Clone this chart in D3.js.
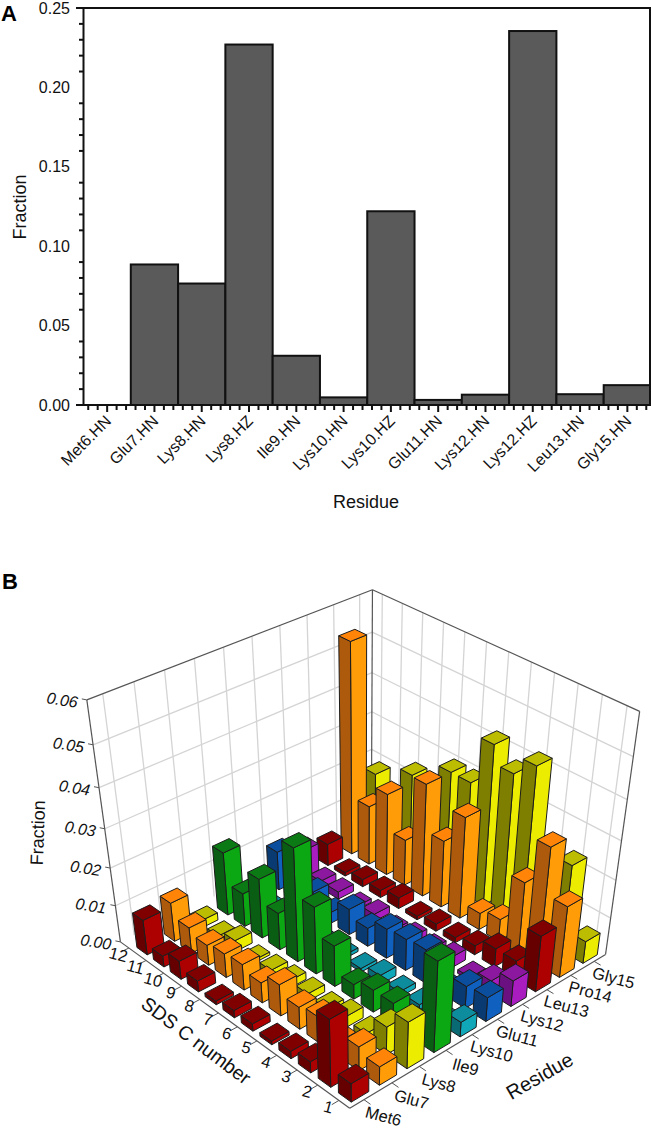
<!DOCTYPE html>
<html><head><meta charset="utf-8">
<script src="https://cdnjs.cloudflare.com/ajax/libs/d3/7.8.5/d3.min.js"></script>
<style>html,body{margin:0;padding:0;background:#fff}svg{display:block}text{font-family:"Liberation Sans",Arial,sans-serif;fill:#111}</style>
</head><body><svg id="c" width="651" height="1128"></svg>
<script>
// ---- Panel A data
const hbondLabels=["Met6.HN","Glu7.HN","Lys8.HN","Lys8.HZ","Ile9.HN","Lys10.HN","Lys10.HZ","Glu11.HN","Lys12.HN","Lys12.HZ","Leu13.HN","Gly15.HN"];
const hbondFractions=[0,0.0885,0.0765,0.227,0.031,0.0048,0.122,0.0032,0.0065,0.2355,0.0068,0.0125];
const yTicksA=[0,0.05,0.10,0.15,0.20,0.25];
// ---- Panel B data (values listed for SDS C number 1 ... 12)
const residues=["Met6","Glu7","Lys8","Ile9","Lys10","Glu11","Lys12","Leu13","Pro14","Gly15"];
const sdsNumbers=[1,2,3,4,5,6,7,8,9,10,11,12];
const met6=[0.005,0.018,0.003,0.002,0.001,0.002,0.002,0.001,0.003,0.005,0.003,0.0095];
const glu7=[0.005,0.0065,0.004,0.007,0.006,0.0085,0.0055,0.007,0.0065,0.0055,0.007,0.0105];
const lys8=[0.0125,0.0075,0.002,0.003,0.0015,0.002,0.002,0.0015,0.0008,0.003,0.001,0.002];
const ile9=[0.024,0.004,0.006,0.006,0.004,0.011,0.018,0.030,0.010,0.016,0.009,0.017];
const lys10=[0.004,0.001,0.0015,0.0015,0.0025,0.001,0.001,0.001,0.001,0.001,0.001,0.001];
const glu11=[0.0065,0.006,0.002,0.009,0.0085,0.008,0.005,0.007,0.003,0.0055,0.003,0.0105];
const lys12=[0.007,0.0035,0.001,0.003,0.002,0.002,0.0007,0.002,0.001,0.002,0.002,0.0075];
const leu13=[0.015,0.005,0.005,0.0025,0.0015,0.002,0.001,0.003,0.002,0.002,0.001,0.006];
const pro14=[0.019,0.031,0.019,0.006,0.0045,0.027,0.018,0.03,0.0125,0.022,0.016,0.055];
const gly15=[0.006,0.023,0.003,0.042,0.0375,0.042,0.03,0.03,0.01,0.024,0.01,0.019];
const seriesB=[met6,glu7,lys8,ile9,lys10,glu11,lys12,leu13,pro14,gly15];
const zTicks=[0,0.01,0.02,0.03,0.04,0.05,0.06];
const redF={top:"#800000",left:"#660000",right:"#ad0000"},orangeF={top:"#ff8408",left:"#ad5a0c",right:"#ff9c08"},
 yellowF={top:"#bcbc00",left:"#7e7e00",right:"#ecec00"},greenF={top:"#0c7a14",left:"#0a5e14",right:"#0ca814"},
 tealF={top:"#0c8c9c",left:"#0a6a74",right:"#10a8b8"},blueF={top:"#0c4e9e",left:"#0a3a72",right:"#1060c0"},
 purpleF={top:"#8c18a0",left:"#6a1080",right:"#a81cc0"};
const faceColors=[redF,orangeF,yellowF,greenF,tealF,blueF,purpleF,redF,orangeF,yellowF];

const svg=d3.select("#c");
// ---------- Panel A
(function(){
 const x=d3.scaleBand().domain(hbondLabels).range([83.5,651]);
 const y=d3.scaleLinear().domain([0,0.25]).range([405,8]);
 const g=svg.append("g");
 const black="#111";
 g.selectAll("rect.b").data(hbondFractions).join("rect").attr("class","b")
  .attr("x",(d,i)=>x(hbondLabels[i])).attr("width",x.bandwidth())
  .attr("y",d=>y(d)).attr("height",d=>y(0)-y(d))
  .attr("fill","#5a5a5a").attr("stroke",black).attr("stroke-width",2);
 g.append("path").attr("d",`M76,${y(0.25)}H650V${y(0)}`).attr("fill","none").attr("stroke",black).attr("stroke-width",2);
 g.append("line").attr("x1",76).attr("x2",650).attr("y1",y(0)).attr("y2",y(0)).attr("stroke",black).attr("stroke-width",2);
 g.append("line").attr("x1",83.5).attr("x2",83.5).attr("y1",y(0.25)).attr("y2",y(0)).attr("stroke",black).attr("stroke-width",2);
 d3.range(0,25).forEach(k=>{const v=k/100;if(k%5)g.append("line").attr("x1",79).attr("x2",83.5).attr("y1",y(v)).attr("y2",y(v)).attr("stroke",black).attr("stroke-width",2);});
 g.selectAll("text.yt").data(yTicksA).join("text").attr("class","yt").attr("x",70).attr("y",d=>y(d)+5.5)
  .attr("text-anchor","end").attr("font-size",16).text(d=>d.toFixed(2));
 const bw=x.bandwidth();
 hbondLabels.forEach((l,i)=>{const c=x(l)+bw/2;
  g.append("line").attr("x1",c).attr("x2",c).attr("y1",y(0)).attr("y2",y(0)+7).attr("stroke",black).attr("stroke-width",2);
  [-2,-1,1,2].forEach(k=>g.append("line").attr("x1",c+k*bw/5).attr("x2",c+k*bw/5).attr("y1",y(0)).attr("y2",y(0)+5).attr("stroke",black).attr("stroke-width",2));
  g.append("text").attr("transform",`translate(${c+5},${y(0)+17}) rotate(-45)`).attr("text-anchor","end").attr("font-size",16).text(l);
 });
 g.append("text").attr("transform","translate(26,207) rotate(-90)").attr("text-anchor","middle").attr("font-size",18).text("Fraction");
 g.append("text").attr("x",366).attr("y",508).attr("text-anchor","middle").attr("font-size",18).text("Residue");
 svg.append("text").attr("x",1).attr("y",21).attr("font-size",22).attr("font-weight","bold").attr("style","fill:#000").text("A");
 svg.append("text").attr("x",2).attr("y",589).attr("font-size",22).attr("font-weight","bold").attr("style","fill:#000").text("B");
})();

// ---------- Panel B: projective camera solved from the cube's visible corners
function solve(A,b){const n=b.length;A=A.map((r,i)=>[...r,b[i]]);
 for(let i=0;i<n;i++){let m=i;for(let k=i+1;k<n;k++)if(Math.abs(A[k][i])>Math.abs(A[m][i]))m=k;[A[i],A[m]]=[A[m],A[i]];
  for(let k=i+1;k<n;k++){const f=A[k][i]/A[i][i];for(let j=i;j<=n;j++)A[k][j]-=f*A[i][j];}}
 const x=new Array(n);for(let i=n-1;i>=0;i--){let s=A[i][n];for(let j=i+1;j<n;j++)s-=A[i][j]*x[j];x[i]=s/A[i][i];}return x;}
const cubeCorners=[[0,0,0,350,1108],[1,0,0,605,955],[0,1,0,120,942],[1,1,0,372,820],[0,1,1,87,700],[1,1,1,372,590],[1,0,1,640,711]];
const cam=(function(){const R=[],B=[];cubeCorners.forEach(([u,v,w,X,Y])=>{
  R.push([u,v,w,1,0,0,0,0,-u*X,-v*X,-w*X]);B.push(X);
  R.push([0,0,0,0,u,v,w,1,-u*Y,-v*Y,-w*Y]);B.push(Y);});
 const n=11,N=d3.range(n).map(i=>d3.range(n).map(j=>d3.sum(R,r=>r[i]*r[j]))),Q=d3.range(n).map(i=>d3.sum(R,(r,k)=>r[i]*B[k]));
 return solve(N,Q);})();
const proj=(u,v,w)=>{const d=cam[8]*u+cam[9]*v+cam[10]*w+1;return[(cam[0]*u+cam[1]*v+cam[2]*w+cam[3])/d,(cam[4]*u+cam[5]*v+cam[6]*w+cam[7])/d];};

const uS=d3.scaleBand().domain(residues).range([0,1]).paddingInner(0.38).paddingOuter(0.19);
const vS=d3.scaleBand().domain(sdsNumbers).range([0,1]).paddingInner(0.38).paddingOuter(0.19);
const vBar=d3.scaleBand().domain(sdsNumbers).range([0,0.96]).paddingInner(0.38).paddingOuter(0.19);
const zS=d3.scaleLinear().domain([0,0.06]).range([0,1]);
const line=d3.line();
const gB=svg.append("g");
const gridC="#d4d4d4",axisC="#555";
const poly=(pts,fill,stroke,sw)=>gB.append("path").attr("d",line(pts)+"Z").attr("fill",fill).attr("stroke",stroke).attr("stroke-width",sw).attr("stroke-linejoin","round");
const seg=(a,b,c,sw)=>gB.append("path").attr("d",line([a,b])).attr("stroke",c).attr("stroke-width",sw).attr("fill","none");
// wall grid
zTicks.slice(1,-1).forEach(t=>{const w=zS(t);seg(proj(0,1,w),proj(1,1,w),gridC,1.3);seg(proj(1,1,w),proj(1,0,w),gridC,1.3);});
residues.forEach(r=>{const u=uS(r)+uS.bandwidth()/2;seg(proj(u,1,0),proj(u,1,1),gridC,1.3);});
sdsNumbers.forEach(s=>{const v=vS(s)+vS.bandwidth()/2;seg(proj(1,v,0),proj(1,v,1),gridC,1.3);});
// frame
[[[0,1,1],[1,1,1]],[[1,1,1],[1,0,1]],[[1,1,0],[1,1,1]],[[0,1,0],[0,1,1]],[[1,0,0],[1,0,1]],[[0,0,0],[0,1,0]],[[0,0,0],[1,0,0]]]
 .forEach(([a,b])=>seg(proj(...a),proj(...b),axisC,1.2));
// ticks
zTicks.forEach(t=>{const w=zS(t),p=proj(0,1,w);seg(p,[p[0]-5,p[1]-1],axisC,1);});
sdsNumbers.forEach(s=>{const v=vS(s)+vS.bandwidth()/2,p=proj(0,v,0);seg(p,proj(-0.025,v,0),axisC,1);});
residues.forEach(r=>{const u=uS(r)+uS.bandwidth()/2,p=proj(u,0,0);seg(p,proj(u,-0.025,0),axisC,1);});
// bars, painter's order back to front
const cells=[];residues.forEach((r,i)=>sdsNumbers.forEach((s,j)=>cells.push({i,j,r,s,val:seriesB[i][j]})));
cells.sort((a,b)=>(b.i+b.j)-(a.i+a.j));
cells.forEach(c=>{const u0=uS(c.r),u1=u0+uS.bandwidth(),v0=vBar(c.s),v1=v0+vBar.bandwidth(),w=zS(c.val),col=faceColors[c.i];
 poly([proj(u0,v0,0),proj(u1,v0,0),proj(u1,v0,w),proj(u0,v0,w)],col.right,"#1c1c1c",1);
 poly([proj(u0,v0,0),proj(u0,v1,0),proj(u0,v1,w),proj(u0,v0,w)],col.left,"#1c1c1c",1);
 poly([proj(u0,v0,w),proj(u1,v0,w),proj(u1,v1,w),proj(u0,v1,w)],col.top,"#1c1c1c",1);
});
// labels
zTicks.forEach(t=>{const p=proj(0,1,zS(t));
 gB.append("text").attr("transform",`translate(${p[0]-10},${p[1]+8}) rotate(9)`).attr("text-anchor","end").attr("font-size",16).attr("font-style","italic").text(t.toFixed(2));});
sdsNumbers.forEach(s=>{const p=proj(0,vS(s)+vS.bandwidth()/2,0);
 gB.append("text").attr("transform",`translate(${p[0]-12},${p[1]+12}) rotate(15)`).attr("text-anchor","middle").attr("font-size",16.5).text(s);});
residues.forEach(r=>{const p=proj(uS(r)+uS.bandwidth()/2,0,0);
 gB.append("text").attr("transform",`translate(${p[0]+18},${p[1]+22}) rotate(15)`).attr("text-anchor","middle").attr("font-size",16.5).text(r);});
gB.append("text").attr("transform","translate(44,833) rotate(-88)").attr("text-anchor","middle").attr("font-size",18).text("Fraction");
gB.append("text").attr("transform","translate(192,1046) rotate(37)").attr("text-anchor","middle").attr("font-size",19.5).text("SDS C number");
gB.append("text").attr("transform","translate(543,1082) rotate(-30)").attr("text-anchor","middle").attr("font-size",20).text("Residue");
</script></body></html>
